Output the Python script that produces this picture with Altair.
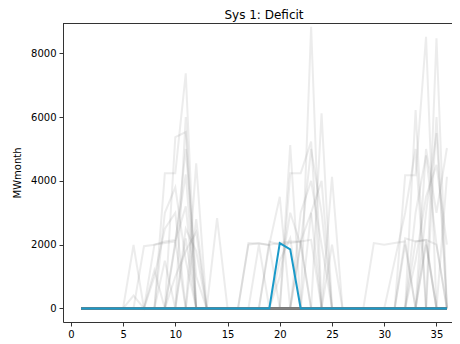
import altair as alt
import pandas as pd

months = list(range(1, 37))
chart_title = "Sys 1: Deficit"

# Scenario deficits (MWmonth), months not listed are 0
scenarios = [
    {9: 4240, 10: 4240, 11: 7370},
    {10: 5370, 11: 5530, 23: 8830},
    {6: 1990},
    {7: 1950, 8: 2000, 9: 2050, 10: 2100},
    {12: 4550},
    {14: 2830},
    {10: 2100, 11: 3200},
    {9: 1500, 11: 2200},
    {11: 6000},
    {8: 2000, 9: 2100, 10: 2150, 11: 4200},
    {10: 1000, 11: 1800, 12: 2400},
    {17: 2000, 18: 2050, 19: 1980},
    {17: 2050, 18: 2030, 19: 2000, 20: 2050, 21: 2100, 22: 2100},
    {21: 5120},
    {21: 4240, 22: 4240, 23: 5230},
    {24: 6120},
    {25: 4130},
    {20: 1500, 21: 2200},
    {22: 2100, 23: 2150},
    {22: 3000, 23: 4000, 24: 2000},
    {19: 2000, 20: 3500},
    {29: 2050, 30: 2000, 31: 2050, 32: 2100},
    {32: 4180, 33: 4180, 34: 8520},
    {35: 8470},
    {33: 6220},
    {33: 2100, 34: 2140},
    {36: 4130},
    {34: 5000, 35: 3000, 36: 5030},
    {32: 2000, 34: 2100},
    {33: 3000, 34: 4800, 35: 2000},
    {35: 6000},
    {34: 2000},
    {6: 400, 8: 1200},
    {12: 2800},
    {22: 2000, 23: 5000, 24: 3000},
    {18: 2000},
    {25: 2000},
    {31: 1500, 32: 3000, 33: 5000},
    {9: 3000, 10: 3800, 11: 1500},
    {10: 2000, 11: 5000, 12: 1000},
    {8: 1000, 9: 2500, 10: 3000},
    {20: 1000, 21: 3000, 22: 2000},
    {23: 3000, 24: 4000},
    {33: 1500, 34: 3500, 35: 4500, 36: 2000},
    {34: 3000, 35: 5500},
    {19: 2100, 20: 2000, 21: 2050, 22: 2100, 23: 3000},
    {32: 2200, 33: 2100, 34: 2150, 35: 2000},
    {11: 2500, 12: 1800},
]

# Highlighted scenario
highlight = {20: 2050, 21: 1850}

rows = []
for i, s in enumerate(scenarios):
    for m in months:
        rows.append({"scenario": i, "month": m, "value": s.get(m, 0)})
gray_df = pd.DataFrame(rows)
blue_df = pd.DataFrame({"month": months, "value": [highlight.get(m, 0) for m in months]})
title_df = pd.DataFrame({"t": [chart_title]})

W, H = 389, 299
xscale = alt.Scale(domain=[-0.75, -0.75 + W / 10.447], nice=False, zero=False)
yscale = alt.Scale(domain=[-425, 8950], nice=False, zero=False)

xaxis = alt.Axis(values=[0, 5, 10, 15, 20, 25, 30, 35], title=None, grid=False,
                 domainColor="#333", tickColor="#333", labelColor="#000",
                 labelFontSize=10, tickSize=4, labelPadding=3, labelFont="DejaVu Sans",
                 format="d")
yaxis = alt.Axis(values=[0, 2000, 4000, 6000, 8000], title="MWmonth", grid=False,
                 domainColor="#333", tickColor="#333", labelColor="#000",
                 labelFontSize=10, tickSize=4, labelPadding=3, labelFont="DejaVu Sans",
                 format="d",
                 titleFont="DejaVu Sans", titleFontSize=10, titleFontWeight="normal",
                 titleColor="#000", titlePadding=8)

gray = alt.Chart(gray_df).mark_line(color="#808080", opacity=0.15, strokeWidth=2, clip=True).encode(
    x=alt.X("month:Q", scale=xscale, axis=xaxis),
    y=alt.Y("value:Q", scale=yscale, axis=yaxis),
    detail="scenario:N",
)

blue = alt.Chart(blue_df).mark_line(color="#1a9ac9", strokeWidth=2, clip=True).encode(
    x=alt.X("month:Q", scale=xscale),
    y=alt.Y("value:Q", scale=yscale),
)

top = alt.Chart(blue_df).mark_rule(color="#333", strokeWidth=1).encode(
    y=alt.value(0.5), x=alt.value(0), x2=alt.value(W)
)

title = alt.Chart(title_df).mark_text(
    fontSize=12, font="DejaVu Sans", color="#000", align="center",
    baseline="alphabetic", clip=False,
).encode(text="t:N", x=alt.value(201), y=alt.value(-4))

chart = alt.layer(gray, blue, top, title).properties(
    width=W, height=H,
    autosize=alt.AutoSizeParams(type="none"),
    padding={"left": 55, "top": 15, "right": 0, "bottom": 22},
).configure_view(stroke=None).configure(background="white")

chart.save("out.html", embed_options={"renderer": "svg", "actions": False})
